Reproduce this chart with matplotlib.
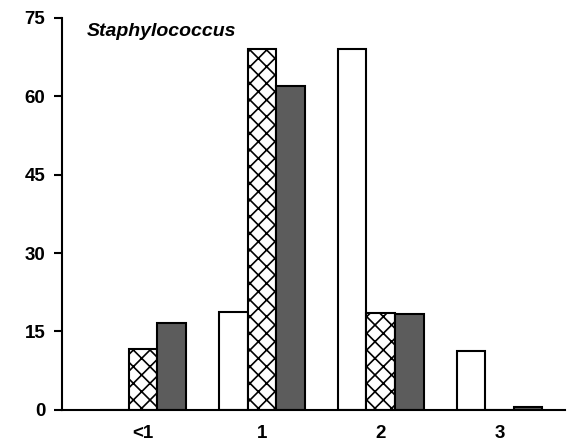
import numpy as np
import matplotlib.pyplot as plt

plt.rcParams['font.family'] = ['Liberation Sans', 'DejaVu Sans']
plt.rcParams['hatch.linewidth'] = 1.2

groups = ['<1', '1', '2', '3']
open_bars = [0, 18.7, 69, 11.3]
hatched_bars = [11.7, 69, 18.5, 0]
dark_bars = [16.6, 62, 18.3, 0.5]

x = np.arange(len(groups))
w = 0.24

fig = plt.figure(figsize=(5.69, 4.46), dpi=100)
ax = fig.add_axes([0.109, 0.081, 0.884, 0.879])

ax.bar(x - w, open_bars, w, color='white', edgecolor='black', linewidth=1.5)
ax.bar(x, hatched_bars, w, color='white', edgecolor='black', linewidth=1.5, hatch='xx')
ax.bar(x + w, dark_bars, w, color='#5c5c5c', edgecolor='black', linewidth=1.5)

ax.set_xlim(-0.68, 3.55)
ax.set_ylim(0, 75)
ax.set_yticks([0, 15, 30, 45, 60, 75])
ax.set_xticks(x)
ax.set_xticklabels(groups)

for s in ['top', 'right']:
    ax.spines[s].set_visible(False)
for s in ['left', 'bottom']:
    ax.spines[s].set_linewidth(1.5)

ax.tick_params(axis='y', length=6, width=1.5, direction='out', labelsize=13.5, pad=6)
ax.tick_params(axis='x', length=0, labelsize=13.5, pad=11)
for lbl in ax.get_xticklabels() + ax.get_yticklabels():
    lbl.set_fontweight('bold')

ax.text(0.05, 0.965, 'Staphylococcus', transform=ax.transAxes, fontsize=14,
        fontweight='bold', fontstyle='italic', va='center', ha='left')

fig.savefig('out.png', dpi=100)
